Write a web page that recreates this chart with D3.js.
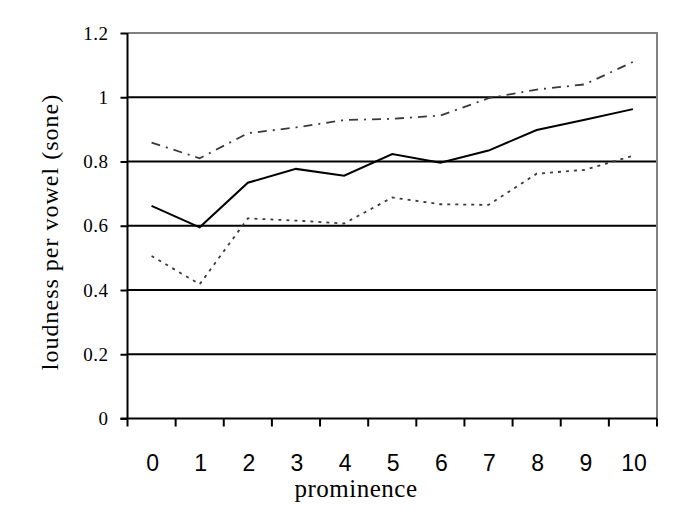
<!DOCTYPE html>
<html>
<head>
<meta charset="utf-8">
<script src="https://cdn.jsdelivr.net/npm/d3@7"></script>
<style>
  body { margin: 0; background: #fff; }
  svg { display: block; }
</style>
</head>
<body>
<div id="chart"></div>
<script>
const categories = ["0", "1", "2", "3", "4", "5", "6", "7", "8", "9", "10"];
const solidValues   = [0.662, 0.595, 0.734, 0.777, 0.756, 0.823, 0.796, 0.834, 0.898, 0.930, 0.963];
const dashDotValues = [0.859, 0.810, 0.888, 0.906, 0.929, 0.933, 0.943, 0.997, 1.024, 1.040, 1.110];
const dottedValues  = [0.506, 0.418, 0.623, 0.616, 0.607, 0.688, 0.667, 0.665, 0.762, 0.774, 0.818];
const yTicks = [0, 0.2, 0.4, 0.6, 0.8, 1, 1.2];

const width = 678;
const height = 530;
const margin = { top: 33, right: 21, bottom: 111.5, left: 127.5 };
const plotW = width - margin.left - margin.right;
const plotH = height - margin.top - margin.bottom;

const serif = "'Liberation Serif', 'Times New Roman', serif";

const svg = d3.select("#chart").append("svg")
    .attr("width", width)
    .attr("height", height);

const g = svg.append("g")
    .attr("transform", `translate(${margin.left},${margin.top})`);

const x = d3.scaleBand().domain(categories).range([0, plotW]);
const y = d3.scaleLinear().domain([0, 1.2]).range([plotH, 0]);

// grid lines
g.selectAll("line.grid")
  .data(yTicks.filter(d => d > 0 && d < 1.2))
  .enter().append("line")
    .attr("class", "grid")
    .attr("x1", 0).attr("x2", plotW)
    .attr("y1", d => y(d)).attr("y2", d => y(d))
    .attr("stroke", "#000")
    .attr("stroke-width", 2);

// top and right border (gray)
g.append("path")
    .attr("d", `M0,${y(1.2)}H${plotW}V${plotH}`)
    .attr("fill", "none")
    .attr("stroke", "#808080")
    .attr("stroke-width", 2);

// y axis
const yAxis = g.append("g")
    .call(d3.axisLeft(y).tickValues(yTicks).tickSize(7).tickPadding(12)
      .tickFormat(d => d === 0 ? "0" : d3.format("~g")(d)));
yAxis.select(".domain").attr("stroke-width", 2).attr("d", `M0,${plotH}V${y(1.2)}`);
yAxis.selectAll(".tick line").attr("stroke-width", 2);
yAxis.selectAll(".tick text")
    .attr("font-family", serif)
    .attr("font-size", 19)
    .attr("letter-spacing", 0.5)
    .attr("fill", "#000");

// x axis with ticks at band boundaries
const xAxisG = g.append("g").attr("transform", `translate(0,${plotH})`);
xAxisG.append("line")
    .attr("x1", -7).attr("x2", plotW)
    .attr("stroke", "#000").attr("stroke-width", 2);
const boundaries = categories.map(c => x(c)).concat([plotW]);
xAxisG.selectAll("line.tick")
  .data(boundaries)
  .enter().append("line")
    .attr("class", "tick")
    .attr("x1", d => d).attr("x2", d => d)
    .attr("y1", 0).attr("y2", 8)
    .attr("stroke", "#000").attr("stroke-width", 2);
xAxisG.selectAll("text")
  .data(categories)
  .enter().append("text")
    .attr("x", d => x(d) + x.bandwidth() / 2 + 1)
    .attr("y", 52)
    .attr("text-anchor", "middle")
    .attr("font-family", "'Liberation Sans', Arial, sans-serif")
    .attr("font-size", 23)
    .text(d => d);

// series
const line = d3.line()
    .x((d, i) => x(categories[i]) + x.bandwidth() / 2)
    .y(d => y(d));

g.append("path")
    .datum(dashDotValues)
    .attr("d", line)
    .attr("fill", "none")
    .attr("stroke", "#3a3a3a")
    .attr("stroke-width", 1.8)
    .attr("stroke-dasharray", "9,6,2,6");

g.append("path")
    .datum(dottedValues)
    .attr("d", line)
    .attr("fill", "none")
    .attr("stroke", "#3a3a3a")
    .attr("stroke-width", 1.8)
    .attr("stroke-dasharray", "3,5");

g.append("path")
    .datum(solidValues)
    .attr("d", line)
    .attr("fill", "none")
    .attr("stroke", "#000")
    .attr("stroke-width", 2);

// axis titles
svg.append("text")
    .attr("x", 356)
    .attr("y", 497)
    .attr("text-anchor", "middle")
    .attr("font-family", serif)
    .attr("font-size", 25)
    .attr("letter-spacing", 0.5)
    .text("prominence");

svg.append("text")
    .attr("transform", "translate(58,232) rotate(-90)")
    .attr("text-anchor", "middle")
    .attr("font-family", serif)
    .attr("font-size", 24)
    .attr("letter-spacing", 1)
    .text("loudness per vowel (sone)");
</script>
</body>
</html>
